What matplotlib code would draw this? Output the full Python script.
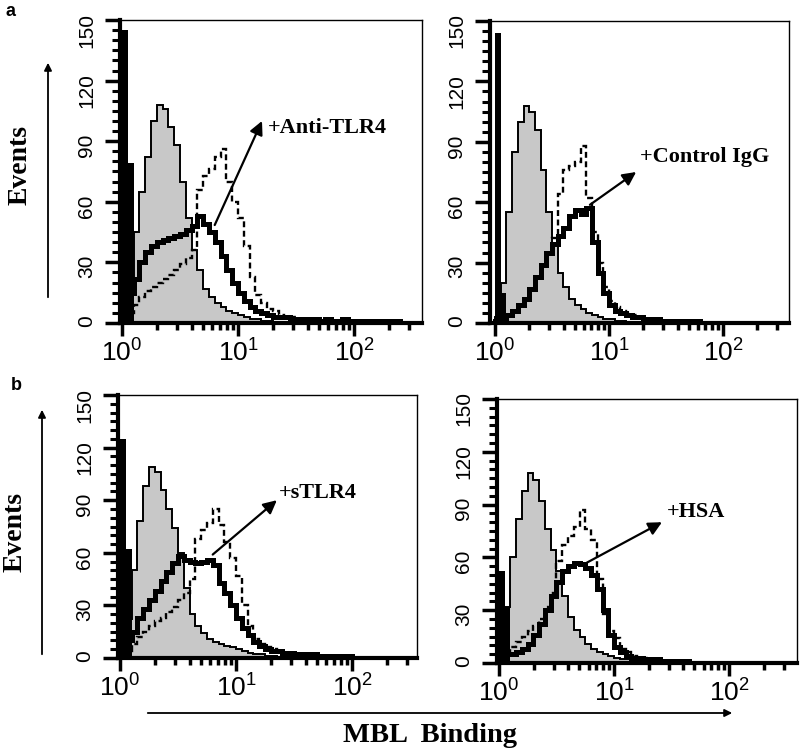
import numpy as np
import matplotlib.pyplot as plt
import matplotlib.patches as mpatches
from matplotlib.ticker import FixedLocator, MultipleLocator, LogLocator, NullFormatter

plt.rcParams['font.family'] = ['Liberation Serif', 'DejaVu Serif']
plt.rcParams['mathtext.default'] = 'regular'

# histogram channel width, in log10 units of MBL binding
BIN = 0.05

# ---- data (events per channel) ----
# a, left : +Anti-TLR4
anti_spike = [145, 79]
anti_ctrl = [10, 20, 45, 65, 82, 100, 108, 106, 97, 88, 70, 52, 36, 26, 17, 13,
             10, 8, 6, 5, 4, 3, 2, 2, 1, 1]
anti_mbl = [3, 5, 9, 13, 16, 18, 20, 22, 24, 26, 29, 32, 36, 66, 73, 76, 82, 86,
            70, 60, 52, 38, 23, 14, 10, 7, 6, 4, 3, 3, 2, 2, 1, 1, 1]
anti_treat = [8, 15, 22, 30, 35, 38, 40, 41, 42, 43, 44, 46, 48, 53, 49, 45, 40,
              33, 26, 20, 15, 11, 8, 6, 5, 4, 3, 3, 3, 2, 2, 2, 2, 2, 1, 2, 1, 1,
              2, 1, 1, 1, 1, 1, 1, 1, 1, 1]

# a, right : +Control IgG
igg_spike = [144, 15]
igg_ctrl = [3, 20, 55, 85, 100, 108, 105, 96, 76, 55, 38, 25, 18, 12, 9, 7, 5, 4,
            3, 2, 2, 1, 1]
igg_mbl = [1, 2, 4, 6, 9, 12, 17, 23, 29, 35, 42, 64, 76, 78, 80, 88, 62, 45, 30,
           18, 11, 8, 6, 5, 4, 3, 2, 2, 1, 1, 1]
igg_treat = [1, 2, 4, 6, 9, 12, 17, 23, 29, 35, 39, 43, 47, 53, 56, 54, 57, 40,
             25, 15, 9, 6, 5, 4, 3, 3, 2, 2, 2, 1, 1, 1, 1, 1, 1, 1]

# b, left : +sTLR4
stlr_spike = [125, 62]
stlr_ctrl = [8, 22, 50, 78, 98, 109, 106, 96, 85, 74, 60, 40, 25, 18, 14, 11, 9,
             8, 7, 6, 5, 4, 3, 2, 2, 1, 1]
stlr_mbl = [2, 4, 8, 12, 15, 18, 21, 23, 26, 29, 33, 37, 45, 68, 73, 77, 85, 76,
            66, 57, 47, 30, 18, 11, 8, 6, 5, 4, 3, 3, 2, 2, 1]
stlr_treat = [6, 10, 15, 23, 28, 33, 38, 44, 49, 54, 58, 56, 55, 54, 55, 56, 53,
              43, 37, 30, 23, 17, 13, 9, 7, 5, 4, 4, 3, 3, 2, 2, 2, 2, 1, 1, 1,
              1, 1, 1]

# b, right : +HSA
hsa_spike = [52, 32]
hsa_ctrl = [12, 32, 60, 82, 98, 108, 104, 92, 76, 64, 52, 38, 26, 19, 15, 11, 8,
            6, 5, 4, 3, 2, 2, 1, 1]
hsa_mbl = [4, 6, 9, 12, 15, 18, 21, 25, 32, 40, 58, 67, 72, 77, 87, 76, 70, 48,
           28, 18, 14, 8, 6, 4, 3, 3, 2, 2, 1]
hsa_treat = [6, 5, 5, 6, 8, 11, 16, 22, 30, 38, 46, 52, 55, 57, 56, 54, 50, 42,
             30, 16, 9, 6, 4, 3, 3, 2, 2, 2, 1, 1, 1, 1, 1]

YTICKS = [0, 30, 60, 90, 120, 150]
XTICKS = [1, 10, 100]
XTICK_LABELS = [r'$10^{0}$', r'$10^{1}$', r'$10^{2}$']

# ---- layout ----
W, H = 800, 754
PANELS = [
    dict(rect=(120, 20, 422, 323), xlog=(-0.017, 2.586), spike=anti_spike,
         ctrl=anti_ctrl, mbl=anti_mbl, treat=anti_treat, label='+Anti-TLR4',
         tail=(6.3, 48.5), head=(16.1, 100), text=(18.2, 96.5)),
    dict(rect=(490, 21, 789, 323), xlog=(-0.044, 2.579), spike=igg_spike,
         ctrl=igg_ctrl, mbl=igg_mbl, treat=igg_treat, label='+Control IgG',
         tail=(6.8, 58.7), head=(17.3, 75), text=(18.7, 82.6)),
    dict(rect=(118, 395, 417, 658), xlog=(-0.017, 2.56), spike=stlr_spike,
         ctrl=stlr_ctrl, mbl=stlr_mbl, treat=stlr_treat, label='+sTLR4',
         tail=(6.3, 59), head=(22.5, 90), text=(23.5, 94)),
    dict(rect=(497, 399, 797, 663), xlog=(-0.017, 2.59), spike=hsa_spike,
         ctrl=hsa_ctrl, mbl=hsa_mbl, treat=hsa_treat, label='+HSA',
         tail=(5.8, 57), head=(26.1, 80), text=(29, 86)),
]


def edges_for(vals):
    return 10 ** (np.arange(len(vals) + 1) * BIN)


def fx(px):
    return px / W


def fy(py):
    return 1 - py / H


fig = plt.figure(figsize=(8, 7.54), dpi=100)

for p in PANELS:
    x0, y0, x1, y1 = p['rect']
    ax = fig.add_axes([fx(x0), fy(y1), (x1 - x0) / W, (y1 - y0) / H])
    ax.set_xscale('log')

    ax.stairs(p['ctrl'], edges_for(p['ctrl']), fill=True, color='#c8c8c8', zorder=1)
    ax.stairs(p['ctrl'], edges_for(p['ctrl']), color='black', lw=1.4, zorder=2)
    ax.stairs(p['mbl'], edges_for(p['mbl']), color='black', lw=1.7,
              linestyle=(0, (2.5, 1.5)), zorder=3)
    ax.stairs(p['treat'], edges_for(p['treat']), color='black', lw=3.6, zorder=4)
    ax.stairs(p['spike'], edges_for(p['spike']), fill=True, color='black', zorder=5)

    ax.set_xlim(10 ** p['xlog'][0], 10 ** p['xlog'][1])
    ax.set_ylim(0, 150)

    ax.yaxis.set_major_locator(FixedLocator(YTICKS))
    ax.yaxis.set_minor_locator(MultipleLocator(5))
    ax.set_xticks(XTICKS, labels=XTICK_LABELS)
    ax.xaxis.set_minor_locator(LogLocator(base=10, subs=range(2, 10)))
    ax.xaxis.set_minor_formatter(NullFormatter())

    ax.tick_params(axis='y', which='major', length=11, width=2.5, pad=6,
                   labelsize=15, labelrotation=90)
    ax.tick_params(axis='y', which='minor', length=6, width=2.2)
    ax.tick_params(axis='x', which='major', length=9, width=2.5, pad=3, labelsize=19)
    ax.tick_params(axis='x', which='minor', length=5, width=2.5)
    for lbl in ax.get_yticklabels():
        lbl.set_fontfamily(['Liberation Sans Narrow', 'Liberation Sans', 'DejaVu Sans'])
    for lbl in ax.get_xticklabels():
        lbl.set_fontfamily(['Liberation Sans', 'DejaVu Sans'])

    for side in ('left', 'bottom'):
        ax.spines[side].set_linewidth(3)
    for side in ('top', 'right'):
        ax.spines[side].set_linewidth(1)

    ax.annotate('', xy=p['head'], xytext=p['tail'],
                arrowprops=dict(arrowstyle='-|>', color='black', lw=1.6,
                                mutation_scale=20, shrinkA=0, shrinkB=0),
                zorder=6)
    ax.text(p['text'][0], p['text'][1], p['label'], fontsize=16, fontweight='bold',
            ha='left', va='center', zorder=6)

# panel letters
fig.text(fx(5), fy(12), 'a', fontsize=13, fontweight='bold', family='Liberation Sans',
         va='center')
fig.text(fx(11), fy(385), 'b', fontsize=13, fontweight='bold', family='Liberation Sans',
         va='center')

# y axis titles with arrows
fig.text(fx(20), fy(165), 'Events', rotation=90, fontsize=20, fontweight='bold',
         ha='center', va='center')
fig.text(fx(15), fy(532), 'Events', rotation=90, fontsize=20, fontweight='bold',
         ha='center', va='center')
for xa, ya0, ya1 in [(48, 300, 60), (42, 657, 407)]:
    fig.add_artist(mpatches.FancyArrowPatch((fx(xa), fy(ya0)), (fx(xa), fy(ya1)),
                                            transform=fig.transFigure,
                                            arrowstyle='-|>', mutation_scale=11,
                                            lw=1.3, color='black'))

# x axis title with arrow
fig.add_artist(mpatches.FancyArrowPatch((fx(145), fy(713)), (fx(735), fy(713)),
                                        transform=fig.transFigure,
                                        arrowstyle='-|>', mutation_scale=11,
                                        lw=1.3, color='black'))
fig.text(fx(430), fy(735), 'MBL  Binding', fontsize=20.5, fontweight='bold',
         ha='center', va='center')

fig.savefig('out.png', dpi=100)
